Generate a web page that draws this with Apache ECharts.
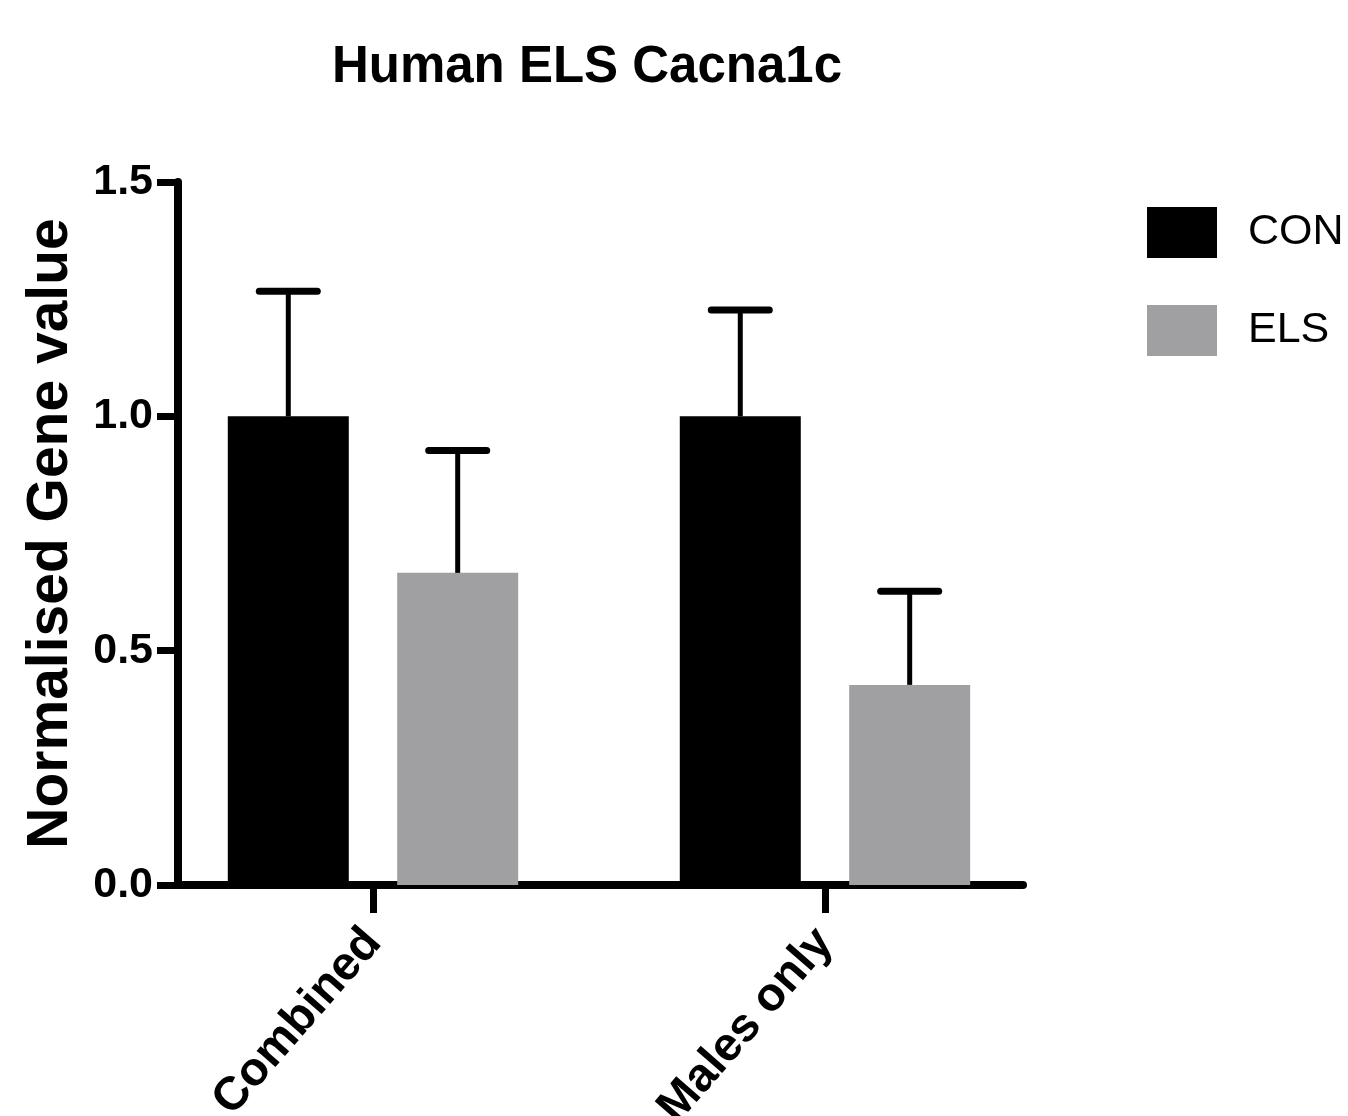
<!DOCTYPE html>
<html>
<head>
<meta charset="utf-8">
<script src="https://cdn.jsdelivr.net/npm/echarts@6/dist/echarts.min.js"></script>
<style>
html,body{margin:0;padding:0;background:#fff;}
#chart{width:1348px;height:1116px;}
</style>
</head>
<body>
<div id="chart"></div>
<script>
// ---- data ----
const categories = ['Combined', 'Males only'];
const categoryIndex = [0, 1];
const conMean = [1.0, 1.0];
const conSem = [0.267, 0.227];
const elsMean = [0.666, 0.427];
const elsSem = [0.261, 0.200];
const seriesNames = ['CON', 'ELS'];

// ---- styling ----
const FONT = '"Liberation Sans", Arial, sans-serif';
const BAR_W = 121;
const BAR_GAP = 0.4;
const OFFSET = (BAR_W + BAR_W * BAR_GAP) / 2;
const colors = ['#000000', '#a0a0a3'];

function errorSeries(means, sems, dir) {
  return {
    type: 'custom',
    z: 5,
    silent: true,
    data: categoryIndex.map((c, i) => [c, means[i], means[i] + sems[i]]),
    renderItem: function (params, api) {
      const base = api.coord([api.value(0), api.value(1)]);
      const top = api.coord([api.value(0), api.value(2)]);
      const cx = base[0] + dir * OFFSET;
      return {
        type: 'group',
        children: [
          { type: 'line', shape: { x1: cx, y1: base[1], x2: cx, y2: top[1] },
            style: { stroke: '#000', lineWidth: 5 } },
          { type: 'line', shape: { x1: cx - 29, y1: top[1], x2: cx + 29, y2: top[1] },
            style: { stroke: '#000', lineWidth: 7, lineCap: 'round' } }
        ]
      };
    }
  };
}

const chart = echarts.init(document.getElementById('chart'), null, { renderer: 'canvas' });
chart.setOption({
  animation: false,
  backgroundColor: '#ffffff',
  title: {
    text: 'Human ELS Cacna1c',
    left: 582,
    textAlign: 'center',
    top: 37,
    textStyle: { fontFamily: FONT, fontWeight: 'bold', fontSize: 51, color: '#000' }
  },
  legend: {
    orient: 'vertical',
    left: 1147,
    top: 207,
    padding: 0,
    itemWidth: 70,
    itemHeight: 51,
    itemGap: 47,
    icon: 'rect',
    selectedMode: false,
    data: seriesNames,
    textStyle: { fontFamily: FONT, fontSize: 43, color: '#000', padding: [0, 0, 0, 26] }
  },
  grid: { left: 178, right: 325, top: 182, bottom: 231, outerBoundsMode: 'none', containLabel: false },
  xAxis: {
    type: 'value',
    min: -0.4314,
    max: 1.4381,
    splitLine: { show: false },
    axisLine: { show: true, onZero: false, lineStyle: { color: '#000', width: 8 } },
    axisTick: { show: true, length: 28, customValues: categoryIndex, lineStyle: { color: '#000', width: 7 } },
    axisLabel: {
      customValues: categoryIndex,
      formatter: v => categories[Math.round(v)],
      rotate: 49,
      margin: 50,
      fontFamily: FONT,
      fontWeight: 'bold',
      fontSize: 47,
      color: '#000'
    }
  },
  yAxis: {
    type: 'value',
    min: 0,
    max: 1.5,
    interval: 0.5,
    name: 'Normalised Gene value',
    nameLocation: 'middle',
    nameRotate: 90,
    nameGap: 98,
    nameTextStyle: { fontFamily: FONT, fontWeight: 'bold', fontSize: 57, color: '#000' },
    splitLine: { show: false },
    axisLine: { show: true, onZero: false, lineStyle: { color: '#000', width: 8 } },
    axisTick: { show: true, length: 21, lineStyle: { color: '#000', width: 7 } },
    axisLabel: {
      formatter: v => v.toFixed(1),
      margin: 25,
      fontFamily: FONT,
      fontWeight: 'bold',
      fontSize: 43,
      color: '#000'
    }
  },
  series: [
    {
      name: seriesNames[0],
      type: 'bar',
      barWidth: BAR_W,
      barGap: (BAR_GAP * 100) + '%',
      itemStyle: { color: colors[0] },
      data: categoryIndex.map((c, i) => [c, conMean[i]])
    },
    {
      name: seriesNames[1],
      type: 'bar',
      barWidth: BAR_W,
      barGap: (BAR_GAP * 100) + '%',
      itemStyle: { color: colors[1] },
      data: categoryIndex.map((c, i) => [c, elsMean[i]])
    },
    errorSeries(conMean, conSem, -1),
    errorSeries(elsMean, elsSem, 1)
  ]
});
</script>
</body>
</html>
